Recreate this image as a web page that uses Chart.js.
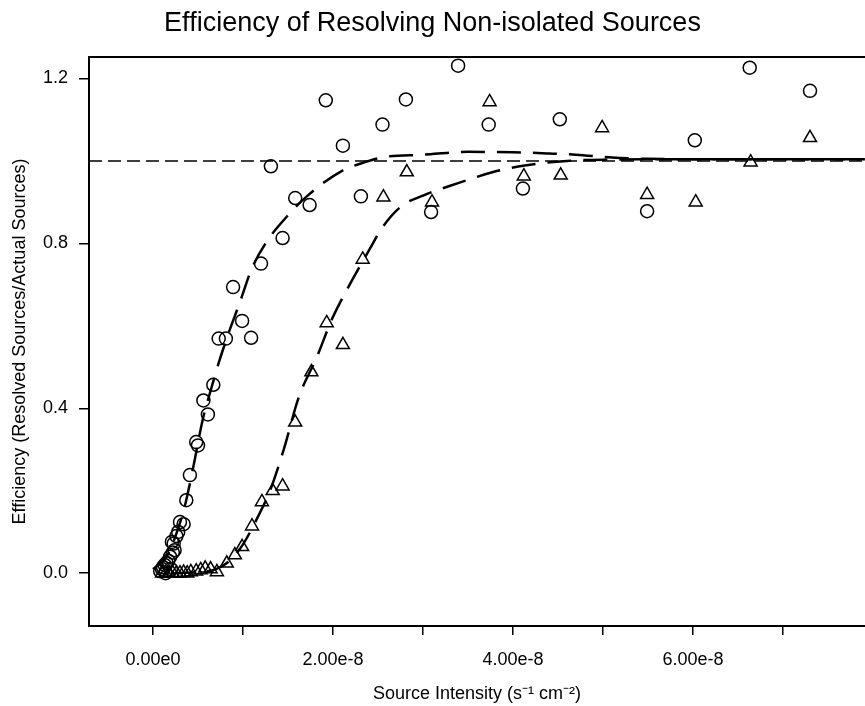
<!DOCTYPE html>
<html>
<head>
<meta charset="utf-8">
<script src="https://cdn.jsdelivr.net/npm/chart.js@4"></script>
<style>
  body { margin: 0; background: #fff; }
  canvas { display: block; }
</style>
</head>
<body>
<canvas id="myChart" width="865" height="706"></canvas>
<script>
// x values are in units of 1e-8 s^-1 cm^-2
var circleX = [0.08, 0.10, 0.11, 0.13, 0.14, 0.15, 0.17, 0.19, 0.20, 0.21, 0.22, 0.24, 0.23, 0.26, 0.28,
  0.30, 0.34, 0.37, 0.41, 0.48, 0.50, 0.56, 0.61, 0.67, 0.73, 0.81, 0.89, 0.99, 1.09, 1.20,
  1.31, 1.44, 1.58, 1.74, 1.92, 2.11, 2.31, 2.55, 2.81, 3.09, 3.39, 3.73, 4.11, 4.52, 5.49,
  6.02, 6.63, 7.30];
var circleY = [0.005, 0.010, 0.015, 0.020, 0.000, 0.025, 0.030, 0.040, 0.010, 0.076, 0.050, 0.056, 0.072, 0.090, 0.100,
  0.124, 0.119, 0.177, 0.238, 0.318, 0.310, 0.419, 0.385, 0.457, 0.569, 0.569, 0.694, 0.612, 0.571, 0.751,
  0.987, 0.813, 0.910, 0.893, 1.147, 1.037, 0.914, 1.088, 1.149, 0.876, 1.231, 1.088, 0.933, 1.101, 0.878,
  1.050, 1.226, 1.170];

var triX = [0.10, 0.14, 0.18, 0.22, 0.26, 0.30, 0.34, 0.38, 0.42, 0.48, 0.53, 0.58, 0.64, 0.71, 0.82,
  0.91, 0.99, 1.10, 1.21, 1.33, 1.44, 1.58, 1.76, 1.93, 2.11, 2.33, 2.56, 2.82, 3.10, 3.74,
  4.12, 4.53, 4.99, 5.49, 6.03, 6.64, 7.30];
var triY = [0.000, 0.000, 0.000, 0.000, 0.000, 0.000, 0.002, 0.000, 0.003, 0.005, 0.008, 0.012, 0.010, 0.003, 0.024,
  0.044, 0.064, 0.114, 0.173, 0.200, 0.211, 0.366, 0.488, 0.607, 0.554, 0.761, 0.912, 0.973, 0.900, 1.143,
  0.963, 0.965, 1.080, 0.918, 0.900, 0.997, 1.056];

// fitted curves
var circleFitX = [0.00, 0.15, 0.25, 0.35, 0.45, 0.55, 0.65, 0.73, 0.82, 0.97, 1.10, 1.26, 1.50, 1.74, 2.11,
  2.30, 2.56, 3.00, 3.50, 4.00, 4.40, 4.70, 5.10, 5.50, 6.00, 7.00, 7.91];
var circleFitY = [0.010, 0.040, 0.090, 0.160, 0.260, 0.370, 0.450, 0.510, 0.570, 0.660, 0.740, 0.803, 0.868, 0.920, 0.977,
  0.993, 1.009, 1.015, 1.022, 1.021, 1.018, 1.015, 1.008, 1.005, 1.004, 1.004, 1.004];

var triFitX = [0.20, 0.50, 0.70, 0.85, 1.00, 1.15, 1.30, 1.45, 1.62, 1.82, 1.99, 2.17, 2.41, 2.54, 2.76,
  3.00, 3.39, 3.78, 4.13, 4.60, 5.00, 6.00, 7.91];
var triFitY = [0.000, 0.003, 0.010, 0.030, 0.070, 0.130, 0.200, 0.298, 0.427, 0.524, 0.617, 0.694, 0.787, 0.836, 0.890,
  0.916, 0.946, 0.973, 0.989, 1.000, 1.003, 1.004, 1.004];

var refLevel = 1.0;

var xMin = -0.711, xMax = 7.911;
var yMin = -0.128, yMax = 1.252;
var xTickValues = [0, 1, 2, 3, 4, 5, 6, 7];
var xTickLabels = ["0.00e0", "", "2.00e-8", "", "4.00e-8", "", "6.00e-8", ""];
var yTickValues = [0, 0.4, 0.8, 1.2];

function pts(xs, ys) {
  return xs.map(function (x, i) { return { x: x * 1e-8, y: ys[i] }; });
}

var frameTop = {
  id: "frameTop",
  afterDraw: function (chart) {
    var a = chart.chartArea, c = chart.ctx;
    c.save();
    c.strokeStyle = "#000";
    c.lineWidth = 2;
    c.beginPath();
    c.moveTo(a.left - 1, a.top);
    c.lineTo(a.right, a.top);
    c.stroke();
    c.restore();
  },
};

Chart.defaults.font.family = "'Liberation Sans', Arial, sans-serif";
Chart.defaults.color = "#000";

var ctx = document.getElementById("myChart").getContext("2d");
var myChart = new Chart(ctx, {
  type: "scatter",
  data: {
    datasets: [
      {
        label: "circle fit",
        type: "line",
        data: pts(circleFitX, circleFitY),
        borderColor: "#000",
        borderWidth: 2.5,
        borderDash: [24, 12],
        pointRadius: 0,
        cubicInterpolationMode: "monotone",
        fill: false,
      },
      {
        label: "triangle fit",
        type: "line",
        data: pts(triFitX, triFitY),
        borderColor: "#000",
        borderWidth: 2.5,
        borderDash: [24, 12],
        pointRadius: 0,
        cubicInterpolationMode: "monotone",
        fill: false,
      },
      {
        label: "reference",
        type: "line",
        data: [{ x: xMin * 1e-8, y: refLevel }, { x: xMax * 1e-8, y: refLevel }],
        borderColor: "#000",
        borderWidth: 1.5,
        borderDash: [13, 6],
        pointRadius: 0,
        fill: false,
      },
      {
        label: "circles",
        data: pts(circleX, circleY),
        pointStyle: "circle",
        pointRadius: 6.5,
        borderColor: "#000",
        borderWidth: 1.5,
        backgroundColor: "rgba(0,0,0,0)",
      },
      {
        label: "triangles",
        data: pts(triX, triY),
        pointStyle: "triangle",
        pointRadius: 7.5,
        borderColor: "#000",
        borderWidth: 1.5,
        backgroundColor: "rgba(0,0,0,0)",
      },
    ],
  },
  options: {
    responsive: false,
    animation: false,
    devicePixelRatio: 1,
    layout: { padding: 0, autoPadding: false },
    plugins: {
      legend: { display: false },
      tooltip: { enabled: false },
      title: {
        display: true,
        text: "Efficiency of Resolving Non-isolated Sources",
        font: { size: 27, weight: "normal" },
        color: "#000",
        padding: { top: 7, bottom: 17.6 },
      },
    },
    scales: {
      x: {
        type: "linear",
        min: xMin * 1e-8,
        max: xMax * 1e-8,
        afterBuildTicks: function (s) {
          s.ticks = xTickValues.map(function (v) { return { value: v * 1e-8 }; });
        },
        afterFit: function (s) { s.height = 80; },
        ticks: {
          autoSkip: false,
          maxRotation: 0,
          padding: 14,
          font: { size: 18 },
          callback: function (v, i) { return xTickLabels[i]; },
        },
        grid: { drawOnChartArea: false, drawTicks: true, tickLength: 9, color: "#000", lineWidth: 1.5 },
        border: { display: true, color: "#000", width: 2 },
        title: {
          display: true,
          text: "Source Intensity (s\u207B\u00B9 cm\u207B\u00B2)",
          font: { size: 18 },
          padding: { top: 0, bottom: 1 },
        },
      },
      y: {
        type: "linear",
        min: yMin,
        max: yMax,
        afterBuildTicks: function (s) {
          s.ticks = yTickValues.map(function (v) { return { value: v }; });
        },
        afterFit: function (s) { s.width = 89; },
        ticks: {
          padding: 11,
          font: { size: 18 },
          callback: function (v) { return v.toFixed(1); },
        },
        grid: { drawOnChartArea: false, drawTicks: true, tickLength: 10, color: "#000", lineWidth: 1.5 },
        border: { display: true, color: "#000", width: 2 },
        title: {
          display: true,
          text: "Efficiency (Resolved Sources/Actual Sources)",
          font: { size: 18 },
          padding: { top: 9, bottom: 0 },
        },
      },
    },
  },
  plugins: [frameTop],
});
</script>
</body>
</html>
